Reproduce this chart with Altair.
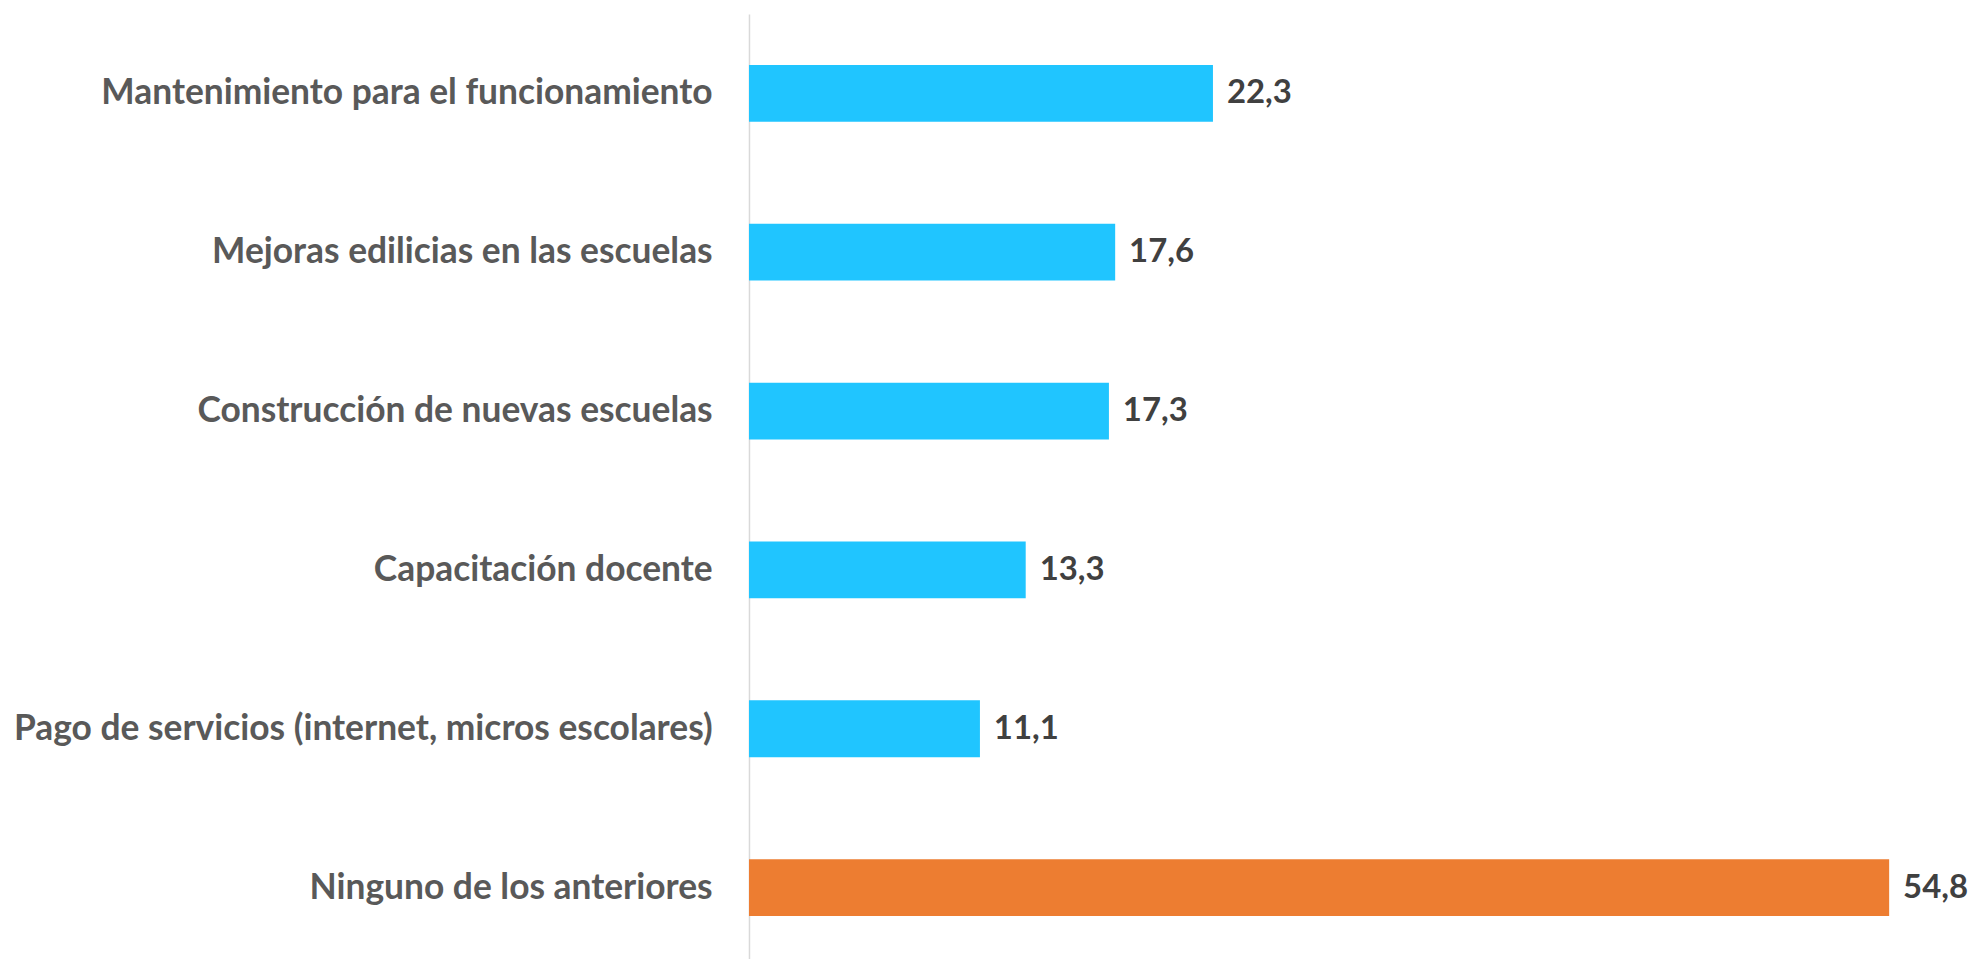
import altair as alt
import pandas as pd

categorias = [
    "Mantenimiento para el funcionamiento",
    "Mejoras edilicias en las escuelas",
    "Construcción de nuevas escuelas",
    "Capacitación docente",
    "Pago de servicios (internet, micros escolares)",
    "Ninguno de los anteriores",
]
valores = [22.3, 17.6, 17.3, 13.3, 11.1, 54.8]
grupos = ["opcion", "opcion", "opcion", "opcion", "opcion", "ninguno"]
colores_dominio = ["opcion", "ninguno"]
colores_rango = ["#20C5FF", "#ED7D31"]

df = pd.DataFrame({
    "categoria": categorias,
    "valor": valores,
    "grupo": grupos,
    "etiqueta": [f"{v:.1f}".replace(".", ",") for v in valores],
})

W = 1149
H = 935

y_enc = alt.Y(
    "categoria:N",
    sort=categorias,
    scale=alt.Scale(range=[0, 957], paddingInner=0, paddingOuter=0),
    axis=alt.Axis(
        title=None,
        ticks=False,
        domain=True,
        domainColor="#D9D9D9",
        domainWidth=1.5,
        labelFont="Lato",
        labelFontSize=35.5,
        labelFontWeight="bold",
        labelColor="#595959",
        labelPadding=37,
        labelLimit=0,
    ),
)
x_enc = alt.X("valor:Q", scale=alt.Scale(domain=[0, 55], nice=False, zero=True), axis=None)

bars = alt.Chart(df).mark_bar(size=57).encode(
    y=y_enc,
    x=x_enc,
    color=alt.Color("grupo:N", scale=alt.Scale(domain=colores_dominio, range=colores_rango), legend=None),
)

text = alt.Chart(df).mark_text(
    align="left", baseline="middle", dx=14,
    font="Lato", fontSize=33, fontWeight="bold", color="#404040",
).encode(
    y=alt.Y("categoria:N", sort=categorias),
    x="valor:Q",
    text="etiqueta:N",
)

chart = (bars + text).properties(
    width=W,
    height=H,
    autosize=alt.AutoSizeParams(type="none"),
    padding={"left": 744, "top": 4, "right": 79, "bottom": 12},
).configure(background="white").configure_view(stroke=None)

chart.save("out.html", embed_options={"renderer": "svg", "actions": False})
